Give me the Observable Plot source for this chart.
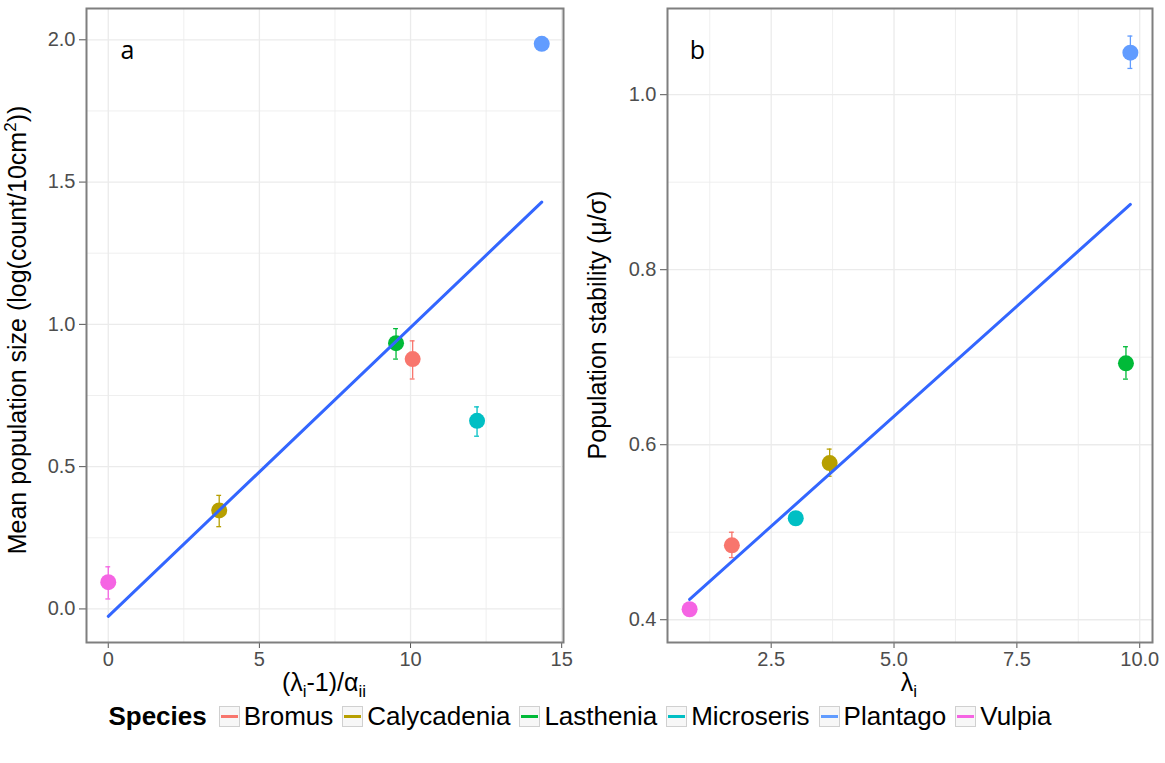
<!DOCTYPE html>
<html>
<head>
<meta charset="utf-8">
<script src="https://cdn.jsdelivr.net/npm/d3@7"></script>
<script src="https://cdn.jsdelivr.net/npm/@observablehq/plot@0.6"></script>
<style>
  html, body { margin: 0; padding: 0; background: #fff; }
  #page { position: relative; width: 1165px; height: 763px; font-family: "Liberation Sans", Arial, sans-serif; }
  #row { position: absolute; left: 0; top: 0; display: flex; }
  #legend { position: absolute; left: 0; top: 698px; width: 1165px; height: 36px; display: flex; justify-content: center; align-items: center; font-size: 26px; color: #000; }
  #legend .ttl { font-weight: bold; margin-right: 8px; }
  #legend .key { width: 21px; height: 21px; border: 1px solid #D0D0D0; background: #F7F7F7; position: relative; margin: 0 4px 0 4px; box-sizing: border-box; }
  #legend .key i { position: absolute; left: 1px; right: 1px; top: 8px; height: 3px; }
  #legend .lab { margin-right: 5px; }
</style>
</head>
<body>
<div id="page">
  <div id="row"></div>
  <div id="legend"></div>
</div>
<script>
// ---- data ----
const species = ["Bromus", "Calycadenia", "Lasthenia", "Microseris", "Plantago", "Vulpia"];
const colors  = ["#F8766D", "#B79F00", "#00BA38", "#00BFC4", "#619CFF", "#F564E3"];

// panel a: (lambda_i - 1)/alpha_ii vs mean population size
const aX  = [10.07, 3.67, 9.52, 12.2, 14.34, 0.0];
const aY  = [0.878, 0.346, 0.934, 0.661, 1.986, 0.094];
const aLo = [0.808, 0.289, 0.878, 0.607, 1.978, 0.035];
const aHi = [0.942, 0.399, 0.985, 0.710, 1.994, 0.148];

// panel b: lambda_i vs population stability
const bX  = [1.70, 3.69, 9.72, 3.00, 9.81, 0.84];
const bY  = [0.485, 0.579, 0.693, 0.516, 1.048, 0.412];
const bLo = [0.471, 0.564, 0.675, 0.510, 1.030, 0.408];
const bHi = [0.500, 0.595, 0.712, 0.523, 1.067, 0.416];

// tick labels
const aXTicks = [0, 5, 10, 15];
const aXMinor = [2.5, 7.5, 12.5];
const aYTicks = [0.0, 0.5, 1.0, 1.5, 2.0];
const aYMinor = [0.25, 0.75, 1.25, 1.75];
const bXTicks = [2.5, 5.0, 7.5, 10.0];
const bXMinor = [1.25, 3.75, 6.25, 8.75];
const bYTicks = [0.4, 0.6, 0.8, 1.0];
const bYMinor = [0.5, 0.7, 0.9];

const aRows = species.map((s, i) => ({species: s, x: aX[i], y: aY[i], lo: aLo[i], hi: aHi[i]}));
const bRows = species.map((s, i) => ({species: s, x: bX[i], y: bY[i], lo: bLo[i], hi: bHi[i]}));

function panel(o) {
  const grid = "#EBEBEB";
  return Plot.plot({
    width: o.width, height: 705,
    marginLeft: o.marginLeft, marginRight: o.marginRight, marginTop: 8, marginBottom: 63,
    x: {domain: o.xDomain},
    y: {domain: o.yDomain},
    color: {domain: species, range: colors},
    style: {fontFamily: "'Liberation Sans', Arial, sans-serif", fontSize: "20px", color: "#4D4D4D", background: "white", overflow: "visible"},
    marks: [
      Plot.gridX(o.xMinor, {stroke: grid, strokeOpacity: 1, strokeWidth: 0.8}),
      Plot.gridY(o.yMinor, {stroke: grid, strokeOpacity: 1, strokeWidth: 0.8}),
      Plot.gridX(o.xTicks, {stroke: grid, strokeOpacity: 1, strokeWidth: 1.3}),
      Plot.gridY(o.yTicks, {stroke: grid, strokeOpacity: 1, strokeWidth: 1.3}),
      Plot.axisX(o.xTicks, {tickFormat: o.xFmt, tickSize: 6, tickPadding: 3, label: null, stroke: "#555"}),
      Plot.axisY(o.yTicks, {tickFormat: d3.format(".1f"), tickSize: 7, tickPadding: 4, label: null, stroke: "#555"}),
      Plot.ruleX(o.data, {x: "x", y1: "lo", y2: "hi", stroke: "species", strokeWidth: 1.3}),
      Plot.ruleY(o.data, {y: "lo", x1: d => d.x - o.cap, x2: d => d.x + o.cap, stroke: "species", strokeWidth: 1.3}),
      Plot.ruleY(o.data, {y: "hi", x1: d => d.x - o.cap, x2: d => d.x + o.cap, stroke: "species", strokeWidth: 1.3}),
      Plot.dot(o.data, {x: "x", y: "y", r: 8, fill: "species", stroke: null}),
      Plot.linearRegressionY(o.data, {x: "x", y: "y", stroke: "#3366FF", strokeWidth: 3, ci: 0}),
      Plot.frame({stroke: "#7F7F7F", strokeWidth: 2}),
      Plot.text([o.letter], {frameAnchor: "top-left", dx: o.letterDx, dy: 42, textAnchor: "middle", lineAnchor: "middle",
        fontSize: 25, fill: "black", fontFamily: "'Open Sans', sans-serif"})
    ]
  });
}

function addTitle(svg, x, y, parts, rotate) {
  const t = d3.select(svg).append("text")
    .attr("transform", `translate(${x},${y})` + (rotate ? " rotate(-90)" : ""))
    .attr("text-anchor", "middle")
    .attr("dy", "0.35em")
    .attr("fill", "#000")
    .style("font-family", "'Liberation Sans', Arial, sans-serif")
    .style("font-size", "25px");
  let shift = 0;
  for (const p of parts) {
    const ts = t.append("tspan").text(p.t);
    let target = 0, size = 25;
    if (p.sub) { target = 6; size = 17; }
    if (p.sup) { target = -10; size = 17; }
    ts.attr("dy", target - shift).style("font-size", size + "px");
    shift = target;
  }
}

const A = panel({
  data: aRows, width: 580, marginLeft: 86, marginRight: 17,
  xDomain: [-0.72, 15.06], yDomain: [-0.118, 2.11],
  xTicks: aXTicks, xMinor: aXMinor, yTicks: aYTicks, yMinor: aYMinor,
  xFmt: d3.format("d"), cap: 0.08, letter: "a", letterDx: 41
});
const B = panel({
  data: bRows, width: 585, marginLeft: 87, marginRight: 13,
  xDomain: [0.39, 10.26], yDomain: [0.374, 1.0985],
  xTicks: bXTicks, xMinor: bXMinor, yTicks: bYTicks, yMinor: bYMinor,
  xFmt: d3.format(".1f"), cap: 0.05, letter: "b", letterDx: 30
});

addTitle(A, 324, 691, [{t: "(λ"}, {t: "i", sub: true}, {t: "-1)/α"}, {t: "ii", sub: true}], false);
addTitle(A, 26, 330, [{t: "Mean population size (log(count/10cm"}, {t: "2", sup: true}, {t: "))"}], true);
addTitle(B, 329, 691, [{t: "λ"}, {t: "i", sub: true}], false);
addTitle(B, 26, 325, [{t: "Population stability (μ/σ)"}], true);

document.getElementById("row").append(A, B);

// legend
const leg = d3.select("#legend");
leg.append("span").attr("class", "ttl").text("Species");
species.forEach((s, i) => {
  const k = leg.append("span").attr("class", "key");
  k.append("i").style("background", colors[i]);
  leg.append("span").attr("class", "lab").text(s);
});
</script>
</body>
</html>
